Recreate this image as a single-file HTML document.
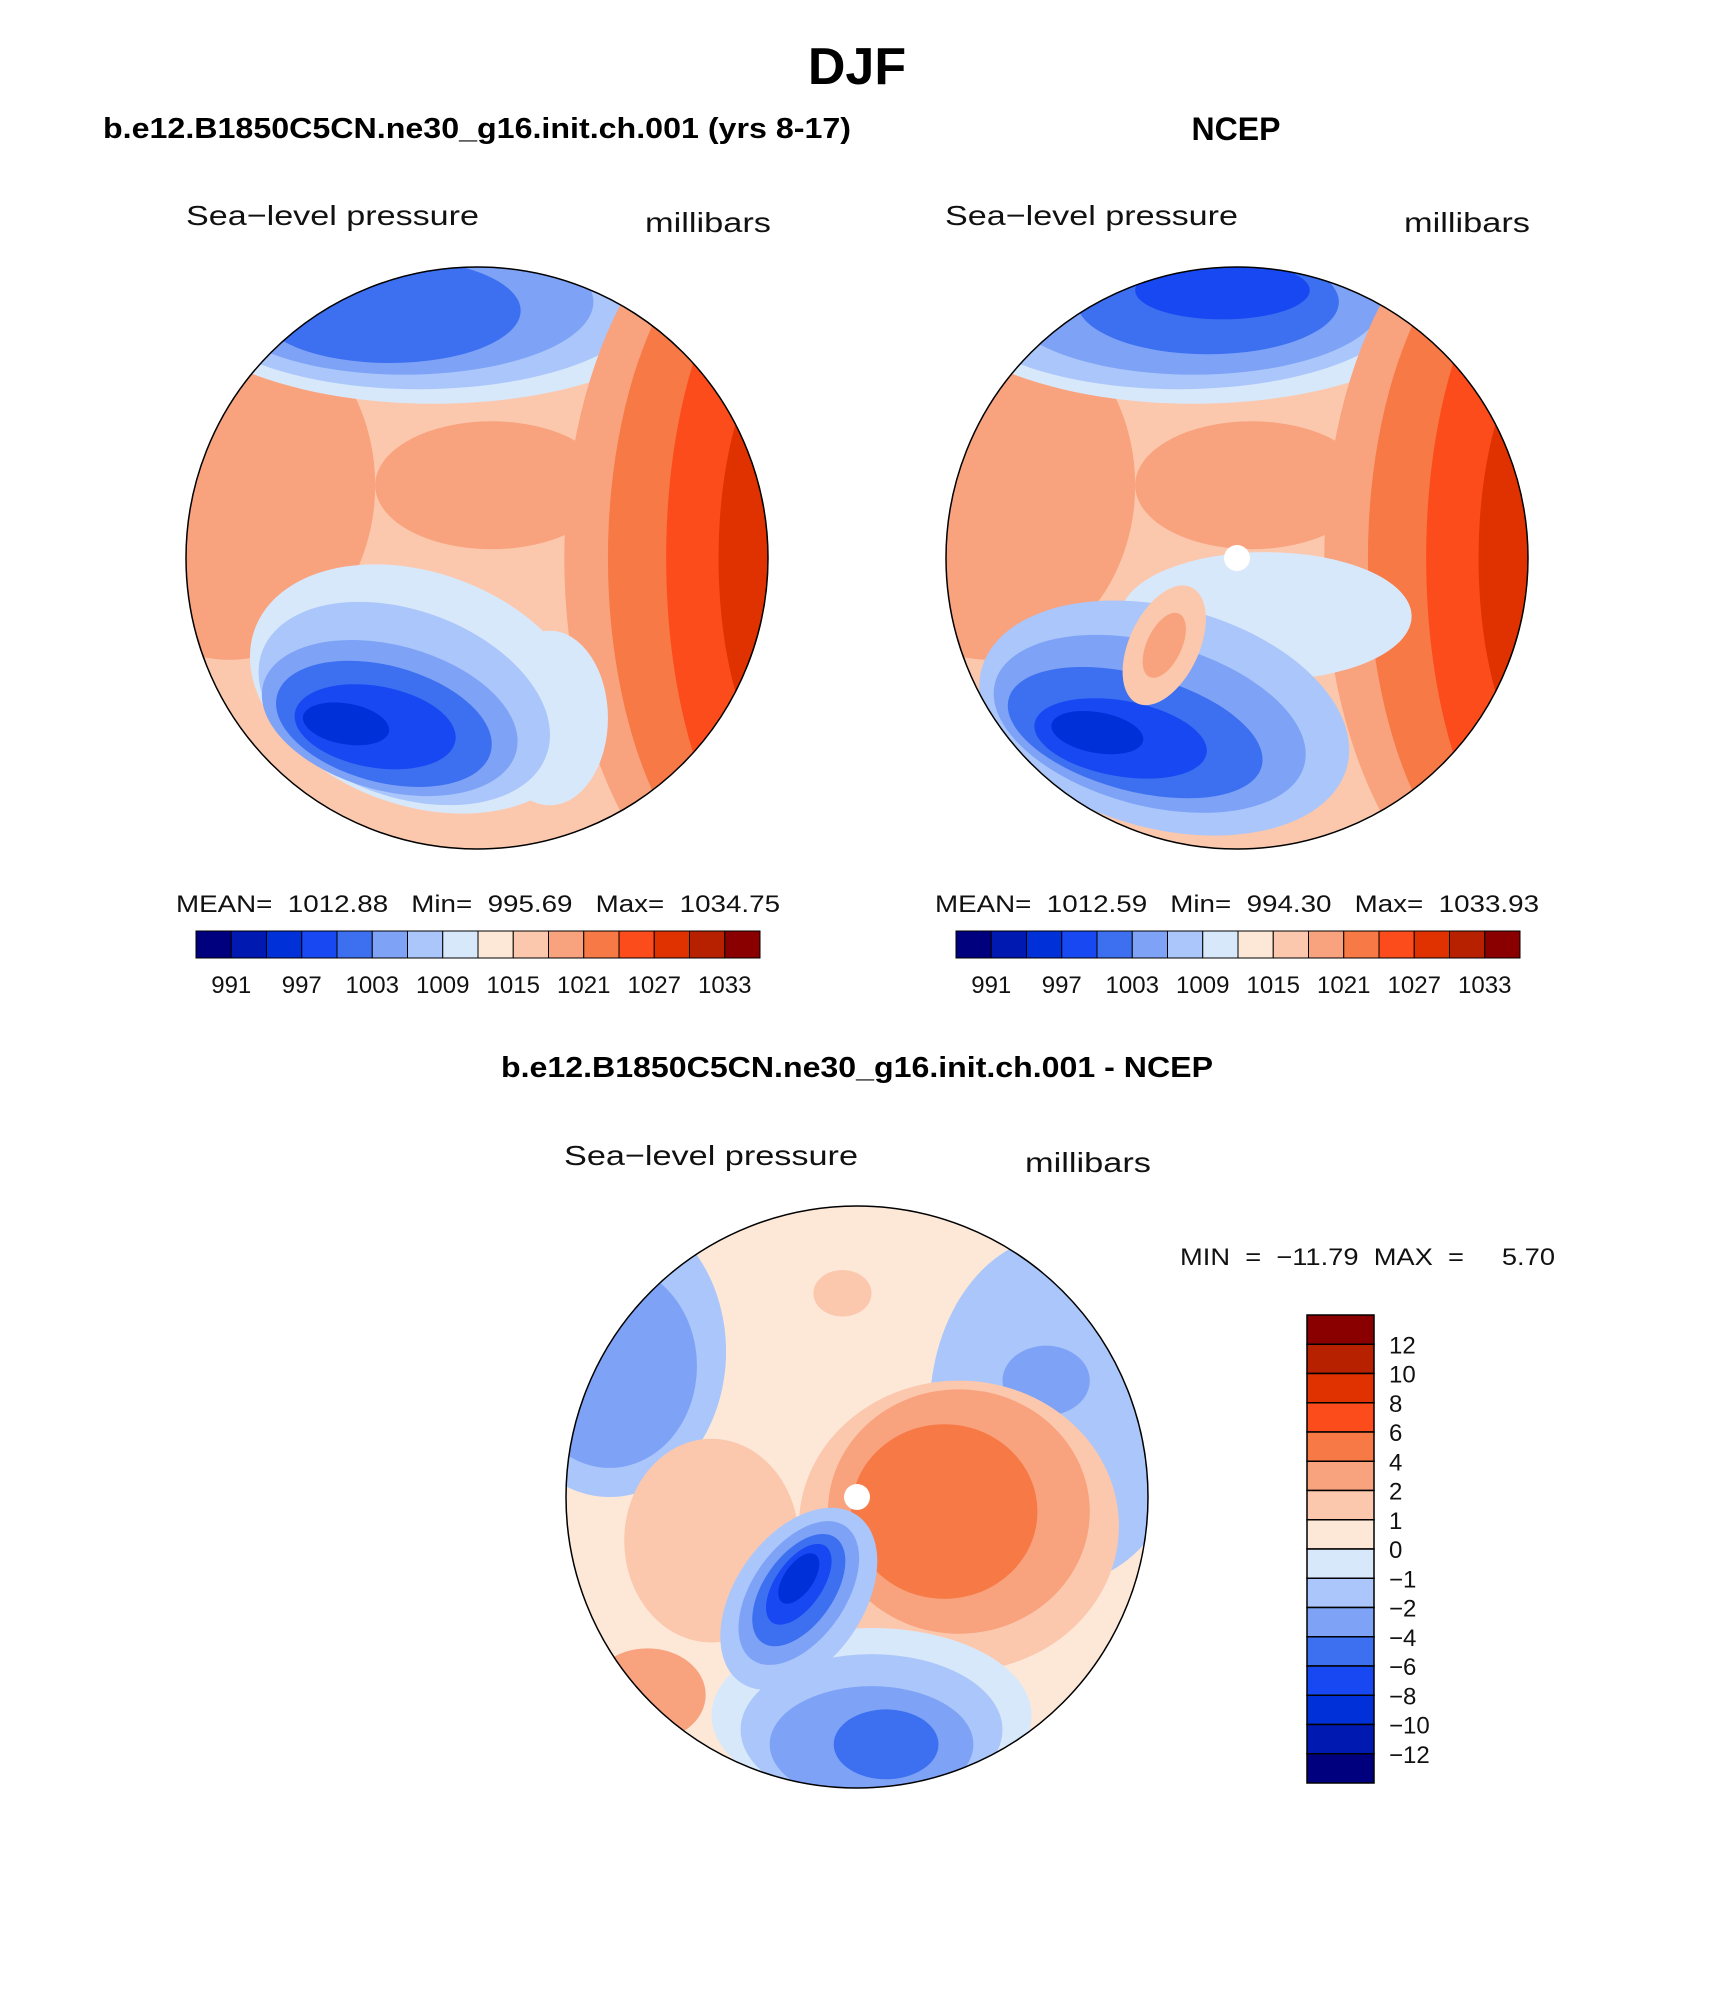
<!DOCTYPE html>
<html><head><meta charset="utf-8"><style>
html,body{margin:0;padding:0;background:#fff}
svg{display:block}
text{font-family:"Liberation Sans",sans-serif;white-space:pre}
.b{font-weight:bold}
.t{font-weight:normal;fill:#111}
</style></head><body>
<svg id="fig" width="1710" height="2006" viewBox="0 0 1710 2006" xmlns="http://www.w3.org/2000/svg" xml:space="preserve">
<defs>
<clipPath id="cL"><circle cx="477" cy="558" r="291"/></clipPath>
<clipPath id="cR"><circle cx="1237" cy="558" r="291"/></clipPath>
<clipPath id="cB"><circle cx="857" cy="1497" r="291"/></clipPath>
</defs>
<text class="b" x="857" y="84" font-size="52" text-anchor="middle">DJF</text>
<text class="b" x="103" y="138" font-size="29" textLength="748" lengthAdjust="spacingAndGlyphs">b.e12.B1850C5CN.ne30_g16.init.ch.001 (yrs 8-17)</text>
<text class="b" x="1236" y="140" font-size="32" text-anchor="middle">NCEP</text>
<text class="b" x="501" y="1077" font-size="29" textLength="712" lengthAdjust="spacingAndGlyphs">b.e12.B1850C5CN.ne30_g16.init.ch.001 - NCEP</text>

<text class="t" x="186" y="225" font-size="28" textLength="293" lengthAdjust="spacingAndGlyphs">Sea−level pressure</text>
<text class="t" x="645" y="232" font-size="28" textLength="126" lengthAdjust="spacingAndGlyphs">millibars</text>
<text class="t" x="945" y="225" font-size="28" textLength="293" lengthAdjust="spacingAndGlyphs">Sea−level pressure</text>
<text class="t" x="1404" y="232" font-size="28" textLength="126" lengthAdjust="spacingAndGlyphs">millibars</text>
<text class="t" x="564" y="1165" font-size="28" textLength="294" lengthAdjust="spacingAndGlyphs">Sea−level pressure</text>
<text class="t" x="1025" y="1172" font-size="28" textLength="126" lengthAdjust="spacingAndGlyphs">millibars</text>

<text class="t" x="176" y="912" font-size="24" textLength="604" lengthAdjust="spacingAndGlyphs">MEAN=  1012.88   Min=  995.69   Max=  1034.75</text>
<text class="t" x="935" y="912" font-size="24" textLength="604" lengthAdjust="spacingAndGlyphs">MEAN=  1012.59   Min=  994.30   Max=  1033.93</text>
<text class="t" x="1180" y="1265" font-size="24" textLength="375" lengthAdjust="spacingAndGlyphs">MIN  =  −11.79  MAX  =     5.70</text>

<g id="mapL" clip-path="url(#cL)"></g>
<g id="mapR" clip-path="url(#cR)"></g>
<g id="mapB" clip-path="url(#cB)"></g>
<circle cx="477" cy="558" r="291" fill="none" stroke="#000" stroke-width="1.5"/>
<circle cx="1237" cy="558" r="291" fill="none" stroke="#000" stroke-width="1.5"/>
<circle cx="857" cy="1497" r="291" fill="none" stroke="#000" stroke-width="1.5"/>
<g id="cbars"></g>
</svg>
<script>
const colors=["#00007f","#0019b0","#0030d8","#1848f2","#3c70f0","#7ea2f6","#aac6fa","#d8e8fb","#fde8d8","#fbc8ad","#f8a27e","#f67946","#fc4c1b","#e03100","#b82100","#8a0000"];
const fullLabels=["991","997","1003","1009","1015","1021","1027","1033"];
const diffLabels=["12","10","8","6","4","2","1","0","−1","−2","−4","−6","−8","−10","−12"];
// field blobs: [u, v, rx, ry, rotation, colorIndex] in units of map radius
const fieldL=[[-0.85,-0.25,0.5,0.6,0,10],[0.05,-0.25,0.4,0.22,0,10],[-0.15,-0.95,0.95,0.42,0,7],[-0.2,-0.9,0.8,0.32,0,6],[-0.25,-0.88,0.65,0.25,0,5],[-0.3,-0.85,0.45,0.18,0,4],
[1.05,0,0.75,1.3,0,10],[1.05,0,0.6,1.2,0,11],[1.1,0,0.45,1.1,0,12],[1.15,0,0.32,0.8,0,13],[1.3,-0.05,0.1,0.15,0,14],
[0.25,0.55,0.2,0.3,0,7],[-0.2,0.45,0.6,0.4,20,7],[-0.25,0.5,0.52,0.32,20,6],[-0.3,0.55,0.45,0.25,15,5],[-0.32,0.57,0.38,0.2,15,4],[-0.35,0.58,0.28,0.14,10,3],[-0.45,0.57,0.15,0.07,10,2]];
const fieldR=[[-0.85,-0.25,0.5,0.6,0,10],[0.05,-0.25,0.4,0.22,0,10],[-0.15,-0.95,0.95,0.42,0,7],[-0.2,-0.9,0.8,0.32,0,6],[-0.15,-0.88,0.65,0.25,0,5],[-0.1,-0.88,0.45,0.18,0,4],[-0.05,-0.92,0.3,0.1,0,3],
[1.05,0,0.75,1.3,0,10],[1.05,0,0.6,1.2,0,11],[1.1,0,0.45,1.1,0,12],[1.15,0,0.32,0.8,0,13],[1.25,-0.05,0.12,0.3,0,14],
[0.1,0.2,0.5,0.22,0,7],[-0.25,0.55,0.65,0.38,15,6],[-0.3,0.57,0.55,0.28,15,5],[-0.35,0.6,0.45,0.2,15,4],[-0.4,0.62,0.3,0.13,10,3],[-0.48,0.6,0.16,0.07,10,2],[-0.25,0.3,0.12,0.22,25,9],[-0.25,0.3,0.06,0.12,25,10]];
const fieldB=[[-0.85,-0.5,0.4,0.5,0,6],[-0.85,-0.45,0.3,0.35,0,5],[0.7,-0.3,0.45,0.6,0,6],[0.65,-0.4,0.15,0.12,0,5],[-0.5,0.15,0.3,0.35,0,9],[-0.05,-0.7,0.1,0.08,0,9],
[0.35,0.1,0.55,0.5,0,9],[0.35,0.05,0.45,0.42,0,10],[0.3,0.05,0.32,0.3,0,11],
[0.05,0.75,0.55,0.3,0,7],[0.05,0.8,0.45,0.26,0,6],[0.05,0.85,0.35,0.2,0,5],[0.1,0.85,0.18,0.12,0,4],
[-0.2,0.35,0.22,0.35,35,6],[-0.2,0.33,0.16,0.28,35,5],[-0.2,0.32,0.12,0.22,35,4],[-0.2,0.3,0.08,0.16,35,3],[-0.2,0.28,0.05,0.1,35,2],[-0.72,0.68,0.2,0.16,0,10]];
const NS="http://www.w3.org/2000/svg";
function mk(t,a){const e=document.createElementNS(NS,t);for(const k in a)e.setAttribute(k,a[k]);return e;}
function drawMap(id,cx,cy,r,base,field,pole){
  const g=document.getElementById(id);
  const bg=mk("rect",{x:cx-r,y:cy-r,width:2*r,height:2*r,fill:colors[base]});
  
  
  g.appendChild(bg);
  field.forEach(f=>{
    const x=cx+f[0]*r,y=cy+f[1]*r;
    const e=mk("ellipse",{cx:x,cy:y,rx:f[2]*r,ry:f[3]*r,fill:colors[f[5]],transform:`rotate(${f[4]} ${x} ${y})`});
    
    
    g.appendChild(e);
  });
  if(pole){const p=mk("circle",{cx:cx,cy:cy,r:13,fill:"#fff"});
    
    
    g.appendChild(p);}
}
drawMap("mapL",477,558,291,9,fieldL,false);
drawMap("mapR",1237,558,291,9,fieldR,true);
drawMap("mapB",857,1497,291,8,fieldB,true);
const cb=document.getElementById("cbars");
function hbar(x0,name){
  const w=564/16;
  colors.forEach((c,i)=>{const r=mk("rect",{x:x0+i*w,y:931,width:w,height:27,fill:c,stroke:"#000","stroke-width":1});
    
    
    cb.appendChild(r);});
  fullLabels.forEach((l,i)=>{const t=mk("text",{x:x0+(1+2*i)*w,y:993,"font-size":24,"text-anchor":"middle",fill:"#111"});t.textContent=l;
    
    
    cb.appendChild(t);});
}
hbar(196,"left-colorbar");
hbar(956,"right-colorbar");
const h=468/16;
colors.slice().reverse().forEach((c,i)=>{const r=mk("rect",{x:1307,y:1315+i*h,width:67,height:h,fill:c,stroke:"#000","stroke-width":1.5});
  
  
  cb.appendChild(r);});
diffLabels.forEach((l,i)=>{const t=mk("text",{x:1389,y:1315+(i+1)*h+9,"font-size":24,fill:"#111"});t.textContent=l;
  
  
  cb.appendChild(t);});
</script>
</body></html>
